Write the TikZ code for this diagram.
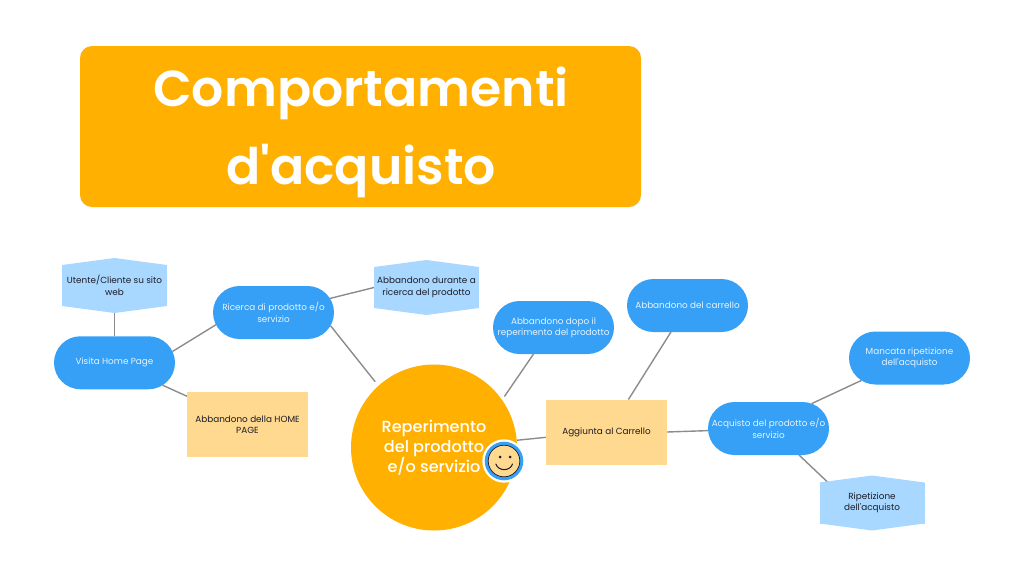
\documentclass[tikz,border=0pt]{standalone}
\usepackage{fontspec}
\newfontfamily\pop{Poppins}
\newfontfamily\popm{Poppins Medium}
\newfontfamily\pops{Poppins SemiBold}
\usetikzlibrary{shapes.misc,backgrounds,calc}
\definecolor{orangeC}{HTML}{FFB000}
\definecolor{blueC}{HTML}{35A0F5}
\definecolor{skyC}{HTML}{A8D8FF}
\definecolor{sandC}{HTML}{FFD98F}
\definecolor{lineC}{HTML}{8C8C8C}
\definecolor{inkC}{HTML}{1C1C28}
\definecolor{paleC}{HTML}{E6F3FF}
\tikzset{
  x=1pt,y=-1pt,
  small/.style={font=\pop\fontsize{8.85}{11.3}\selectfont,align=center,inner sep=0pt,outer sep=0pt},
  stadium/.style={small,rounded rectangle,fill=blueC,text=paleC,minimum width=121pt,minimum height=53pt},
  sandbox/.style={small,rectangle,fill=sandC,text=inkC,minimum width=121pt,minimum height=65pt},
  hexbody/.style={small,rectangle,fill=skyC,text=inkC,minimum width=105pt,minimum height=41pt},
  link/.style={draw=lineC,line width=1.4pt},
}
\newcommand{\hextips}[1]{%
  \fill[skyC] ($(#1.north west)+(0,1)$) -- (#1.north west) -- ($(#1.north)+(0,-7)$) -- (#1.north east) -- ($(#1.north east)+(0,1)$) -- cycle;
  \fill[skyC] ($(#1.south west)+(0,-1)$) -- (#1.south west) -- ($(#1.south)+(0,7)$) -- (#1.south east) -- ($(#1.south east)+(0,-1)$) -- cycle;}
\begin{document}
\begin{tikzpicture}
\useasboundingbox (0,0) rectangle (1024,576);
\node[rectangle,rounded corners=12pt,fill=orangeC,minimum width=561pt,minimum height=161pt,inner sep=0pt] (title) at (360.5,126.5) {};
\node[text=white,inner sep=0pt,align=center,font=\pops\fontsize{50.5}{78}\selectfont] (titletext) at (361,132) {Comportamenti\\d'acquisto};

\node[hexbody] (utente) at (114.5,285.5) {Utente/Cliente su sito\\web};
\hextips{utente}
\node[stadium] (visita) at (114.5,362.75) {Visita Home Page};
\node[stadium] (ricerca) at (273.5,312.5) {Ricerca di prodotto e/o\\servizio};
\node[sandbox] (home) at (247.5,424.5) {Abbandono della HOME\\PAGE};
\node[hexbody] (durante) at (426.5,287.5) {Abbandono durante a\\ricerca del prodotto};
\hextips{durante}
\node[stadium] (dopo) at (553.5,327.5) {Abbandono dopo il\\reperimento del prodotto};
\node[stadium] (carrello) at (687.5,305.5) {Abbandono del carrello};
\node[circle,fill=orangeC,text=white,minimum size=166pt,inner sep=0pt,align=center,font=\popm\fontsize{16.1}{19.8}\selectfont] (reper) at (434,447.5) {Reperimento\\del prodotto\\e/o servizio};
\node[sandbox] (aggiunta) at (606.5,432) {Aggiunta al Carrello};
\node[stadium] (acquisto) at (768.5,428.5) {Acquisto del prodotto e/o\\servizio};
\node[stadium] (mancata) at (909.5,358) {Mancata ripetizione\\dell'acquisto};
\node[hexbody] (ripet) at (872,503) {Ripetizione\\dell'acquisto};
\hextips{ripet}

\begin{scope}[on background layer]
\draw[link] (utente.south) -- (visita.north);
\draw[link] (visita.11.4) -- (ricerca.192.3);
\draw[link] (visita.-25.4) -- (home.155.6);
\draw[link] (ricerca.14.4) -- (durante.west);
\draw[link,shorten >=5pt] (ricerca.-13.4) -- (reper.132.9);
\draw[link,shorten >=4pt] (dopo.233.7) -- (reper.35.4);
\draw[link] (carrello.238.1) -- (aggiunta.56.1);
\draw[link] (reper.5.2) -- (aggiunta.185.7);
\draw[link] (aggiunta.-0.9) -- (acquisto.182.4);
\draw[link] (acquisto.30.2) -- (mancata.205.4);
\draw[link] (acquisto.-41) -- (ripet.155.1);
\end{scope}

% smiley badge
\fill[white] (504,461) circle (21.7);
\fill[blueC] (504,461) circle (19.3);
\draw[fill=sandC,draw=inkC,line width=0.7pt] (504,461) circle (15.8);
\fill[inkC] (500.2,457) circle (1.5);
\fill[inkC] (510.2,457) circle (1.5);
\draw[inkC,line width=1pt,line cap=round] (495.8,464) .. controls (498.5,471.5) and (510,471.5) .. (512.5,464);
\end{tikzpicture}
\end{document}
